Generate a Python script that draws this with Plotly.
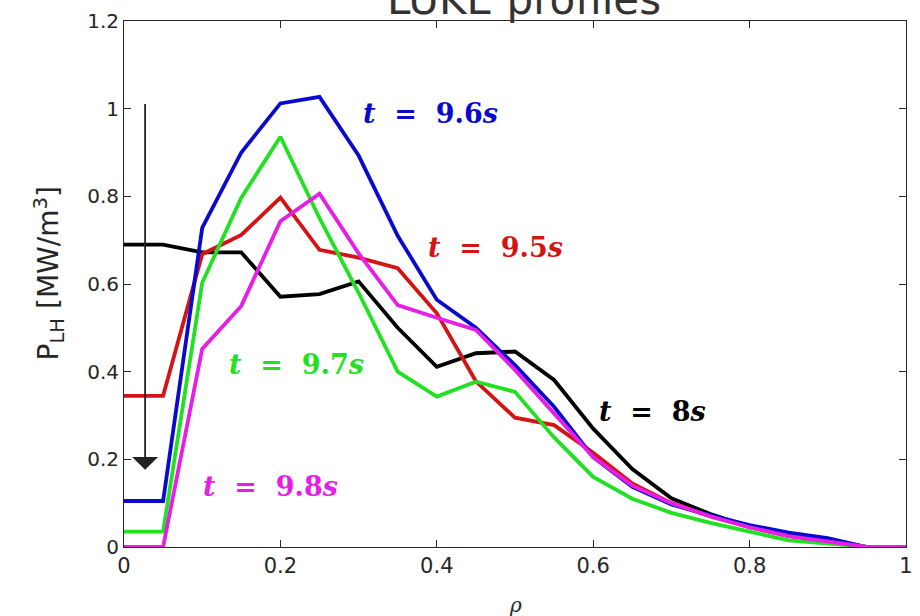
import plotly.graph_objects as go

rho = [0.0, 0.05, 0.1, 0.15, 0.2, 0.25, 0.3, 0.35, 0.4, 0.45, 0.5,
       0.55, 0.6, 0.65, 0.7, 0.75, 0.8, 0.85, 0.9, 0.95, 1.0]

p_t8 = [0.69, 0.69, 0.672, 0.672, 0.571, 0.577, 0.606, 0.50, 0.411, 0.442, 0.446,
        0.381, 0.27, 0.178, 0.111, 0.075, 0.046, 0.028, 0.015, 0.0, 0.0]
p_t95 = [0.345, 0.345, 0.668, 0.712, 0.797, 0.678, 0.66, 0.636, 0.533, 0.378, 0.295,
         0.278, 0.215, 0.145, 0.1, 0.07, 0.045, 0.025, 0.015, 0.0, 0.0]
p_t96 = [0.105, 0.105, 0.728, 0.9, 1.012, 1.027, 0.893, 0.71, 0.564, 0.5, 0.415,
         0.32, 0.205, 0.137, 0.097, 0.072, 0.05, 0.033, 0.02, 0.0, 0.0]
p_t97 = [0.035, 0.035, 0.603, 0.797, 0.936, 0.75, 0.58, 0.40, 0.343, 0.377, 0.354,
         0.25, 0.16, 0.11, 0.078, 0.055, 0.035, 0.015, 0.008, 0.0, 0.0]
p_t98 = [0.0, 0.0, 0.452, 0.55, 0.743, 0.806, 0.67, 0.552, 0.523, 0.495, 0.404,
         0.305, 0.205, 0.14, 0.1, 0.07, 0.045, 0.025, 0.012, 0.0, 0.0]

x_ticks = [0, 0.2, 0.4, 0.6, 0.8, 1.0]
x_ticklabels = ["0", "0.2", "0.4", "0.6", "0.8", "1"]
y_ticks = [0, 0.2, 0.4, 0.6, 0.8, 1.0, 1.2]
y_ticklabels = ["0", "0.2", "0.4", "0.6", "0.8", "1", "1.2"]

series = [
    ("t = 8s", p_t8, "#000000"),
    ("t = 9.5s", p_t95, "#D41414"),
    ("t = 9.6s", p_t96, "#0A0ACC"),
    ("t = 9.7s", p_t97, "#22E022"),
    ("t = 9.8s", p_t98, "#E61EE6"),
]

fig = go.Figure()
for name, vals, col in series:
    fig.add_trace(go.Scatter(x=rho, y=vals, mode="lines", name=name,
                             line=dict(color=col, width=3.8), showlegend=False))

axis_col = "#262626"
fig.update_xaxes(range=[0, 1], tickvals=x_ticks, ticktext=x_ticklabels,
                 ticks="inside", ticklen=7, tickcolor=axis_col, showline=True,
                 linecolor=axis_col, linewidth=1, mirror="ticks", showgrid=False,
                 zeroline=False, tickfont=dict(family="DejaVu Sans", size=21, color=axis_col))
fig.update_yaxes(range=[0, 1.2], tickvals=y_ticks, ticktext=y_ticklabels,
                 ticks="inside", ticklen=7, tickcolor=axis_col, showline=True,
                 linecolor=axis_col, linewidth=1, mirror="ticks", showgrid=False,
                 zeroline=False, tickfont=dict(family="DejaVu Sans", size=20, color=axis_col))

ann_font = "DejaVu Serif"
sp = "&nbsp;&nbsp;"
labels = [
    ("9.6", "#0A0ACC", 0.392, 0.99),
    ("9.5", "#D41414", 0.475, 0.683),
    ("9.7", "#22E022", 0.22, 0.416),
    ("9.8", "#E61EE6", 0.187, 0.137),
    ("8", "#000000", 0.676, 0.308),
]
for num, col, x, y in labels:
    txt = "<b><i>t</i>" + sp + "=" + sp + num + "<i>s</i></b>"
    fig.add_annotation(x=x, y=y, xref="x", yref="y", text=txt, showarrow=False,
                       font=dict(family=ann_font, size=27, color=col),
                       xanchor="center", yanchor="middle")

# downward arrow
fig.add_annotation(x=0.027, y=0.176, ax=0.027, ay=1.014, xref="x", yref="y",
                   axref="x", ayref="y", text="", showarrow=True,
                   arrowhead=1, arrowsize=2.4, arrowwidth=1.8, arrowcolor="#222222")

# title (partly cut at top)
fig.add_annotation(x=0.512, y=1.0, xref="paper", yref="paper", text="LUKE profiles",
                   showarrow=False, yanchor="bottom", yshift=-5,
                   font=dict(family="DejaVu Sans", size=42, color="#333333"))

# axis titles
fig.add_annotation(x=0.5, y=0, xref="paper", yref="paper", text="<i>ρ</i>",
                   showarrow=False, yanchor="middle", yshift=-58,
                   font=dict(family="DejaVu Serif", size=20, color=axis_col))
fig.add_annotation(x=0, y=0.52, xref="paper", yref="paper",
                   text="P<sub>LH</sub> [MW/m<sup>3</sup>]", textangle=-90,
                   showarrow=False, xanchor="center", xshift=-75,
                   font=dict(family="DejaVu Sans", size=28, color=axis_col))

fig.update_layout(width=920, height=616, margin=dict(l=124, r=7, t=21, b=69),
                  plot_bgcolor="white", paper_bgcolor="white")

fig.write_html("out.html", config={"displayModeBar": False},
               post_script="document.body.style.margin='0px';")
